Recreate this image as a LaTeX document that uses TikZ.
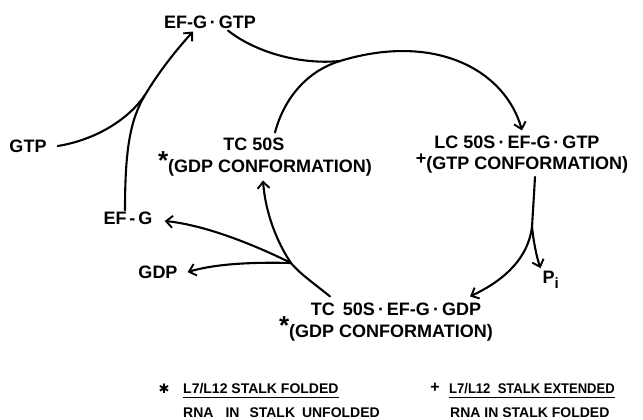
\documentclass[tikz,border=0pt]{standalone}
\usepackage{fontspec}
\setmainfont{Liberation Sans}
\newfontfamily\symfont{DejaVu Sans}
\usetikzlibrary{arrows.meta}
\tikzset{
  lab/.style={font=\fontsize{18}{20}\selectfont\bfseries, inner sep=1pt},
  leg/.style={font=\fontsize{14}{16}\selectfont\bfseries, inner sep=0pt, anchor=west},
  conn/.style={line width=2.1pt, line cap=round},
  arr/.style={conn, -{Straight Barb[length=6.5pt,width=12pt,line width=1.9pt]}},
  uline/.style={line width=1.4pt}
}
\newcommand{\mdot}{\,·\,}
\newcommand{\bigast}{\raisebox{3pt}{\fontsize{26}{26}\selectfont *}}
\begin{document}
\begin{tikzpicture}[x=1pt,y=-1pt]
\useasboundingbox (0,0) rectangle (643,420);
% nodes
\node[lab] (efggtp) at (210,22) {EF-G\mdot GTP};
\node[lab] (gtp) at (28,146) {GTP};
\node[lab] (tc) at (254,144) {TC 50S};
\node[lab] (tcc) at (265,164) {\bigast(GDP CONFORMATION)};
\node[lab] (lc) at (517,142) {LC 50S\mdot EF-G\mdot GTP};
\node[lab] (lcc) at (522,164) {\raisebox{5pt}{+}(GTP CONFORMATION)};
\node[lab] (efg) at (128,218) {EF\,-\,G};
\node[lab] (gdp) at (158,272) {GDP};
\node[lab] (pi) at (551,280) {P\textsubscript{\fontsize{15}{15}\selectfont i}};
\node[lab] (tcg) at (396,309) {TC\hspace{3pt} 50S\mdot EF-G\mdot GDP};
\node[lab] (tcgc) at (386,329) {\bigast(GDP CONFORMATION)};
% junction coordinates
\coordinate (j1) at (145,95);
\coordinate (j2) at (340,61);
\coordinate (j3) at (532,227);
\coordinate (j4) at (291,263);
% connectors
\draw[arr] ([xshift=-3pt]efg.north) .. controls (125,150) and (130,120) .. (j1)
   .. controls (160,70) and (178,48) .. ([xshift=-17pt,yshift=-2pt]efggtp.south);
\draw[conn] ([xshift=10pt]gtp.east) .. controls (95,140) and (128,120) .. (j1);
\draw[arr] ([xshift=18pt,yshift=-1pt]efggtp.south) .. controls (255,52) and (300,65) .. (j2)
   .. controls (435,32) and (505,70) .. ([xshift=5pt,yshift=4pt]lc.north);
\draw[conn] ([xshift=21pt,yshift=4pt]tc.north) .. controls (285,95) and (310,70) .. (j2);
\draw[conn] ([xshift=13pt,yshift=-2pt]lcc.south) .. controls (534,195) and (533,210) .. (j3);
\draw[arr] (j3) .. controls (528,258) and (505,280) .. ([xshift=74pt,yshift=5pt]tcg.north);
\draw[arr] (j3) .. controls (534,245) and (537,258) .. ([xshift=-1pt,yshift=2pt]pi.north west);
\draw[arr] ([xshift=-66pt,yshift=5pt]tcg.north) .. controls (312,282) and (298,272) .. (j4)
   .. controls (282,250) and (266,220) .. ([xshift=-2pt,yshift=-3pt]tcc.south);
\draw[arr] (j4) .. controls (255,245) and (205,225) .. ([xshift=11pt,yshift=-3pt]efg.east);
\draw[arr] (j4) .. controls (250,262) and (215,264) .. ([xshift=9pt]gdp.east);
% legend
\node[font=\symfont\fontsize{13}{13}\selectfont] (s0) at (164,389) {✱};
\node[leg] (s1) at (183,389) {L7/L12 STALK FOLDED};
\node[leg] (s2) at (183,413) {RNA\hspace{12pt}IN\hspace{10pt}STALK\hspace{3pt} UNFOLDED};
\node[font=\fontsize{16}{16}\selectfont\bfseries] (p0) at (435,388) {+};
\node[leg] (p1) at (449,389) {\scalebox{0.93}[1]{L7/L12\hspace{4pt} STALK EXTENDED}};
\node[leg] (p2) at (450,413) {RNA IN STALK FOLDED};
\draw[uline] ([yshift=-3pt]s1.south west) -- ([yshift=-3pt]s1.south east);
\draw[uline] ([yshift=-3pt]p1.south west) -- ([yshift=-3pt]p1.south east);
\end{tikzpicture}
\end{document}
